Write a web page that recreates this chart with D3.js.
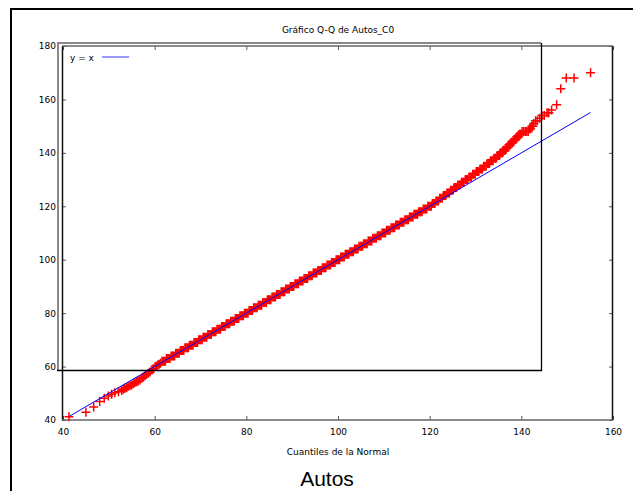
<!DOCTYPE html>
<html>
<head>
<meta charset="utf-8">
<script src="https://cdn.jsdelivr.net/npm/d3@7"></script>
<style>
  html, body { margin: 0; padding: 0; background: #fff; }
  svg { display: block; }
  text { font-family: "DejaVu Sans", Verdana, sans-serif; fill: #000; }
</style>
</head>
<body>
<svg id="chart" width="633" height="491"></svg>
<script>
// Axis ticks
const xTicks = [40, 60, 80, 100, 120, 140, 160];
const yTicks = [40, 60, 80, 100, 120, 140, 160, 180];

// Lower tail: [normal quantile, observed value]
const lowerTail = [
  [41.3, 41.2], [45.0, 42.9], [46.7, 44.9], [48.0, 46.9], [49.0, 48.1],
  [49.9, 49.0], [50.6, 49.6], [51.3, 50.2], [52.1, 50.6], [52.8, 51.0],
  [53.2, 51.5], [53.5, 51.9], [53.9, 52.1], [54.2, 52.5], [54.6, 52.8],
  [55.0, 53.1], [55.4, 53.6], [55.7, 54.0], [56.1, 54.3], [56.4, 54.6],
  [56.8, 55.0], [57.2, 55.6], [57.5, 56.0], [57.9, 56.6], [58.2, 57.0],
  [58.6, 57.5], [59.0, 58.0], [59.4, 58.7], [59.7, 59.2], [60.1, 60.0],
  [60.4, 60.2], [60.7, 60.6], [61.0, 60.9], [61.3, 61.2]
];

// Body and upper tail: observed (integer) value with the normal quantiles at which it occurs
const bodyLevels = [
  [62, [61.6, 61.85, 62.1, 62.35]], [63, [62.6, 62.85, 63.1, 63.35]],
  [64, [63.6, 63.85, 64.1, 64.35]], [65, [64.6, 64.85, 65.1, 65.35]],
  [66, [65.6, 65.85, 66.1, 66.35]], [67, [66.6, 66.85, 67.1, 67.35]],
  [68, [67.6, 67.85, 68.1, 68.35]], [69, [68.6, 68.85, 69.1, 69.35]],
  [70, [69.6, 69.85, 70.1, 70.35]], [71, [70.6, 70.85, 71.1, 71.35]],
  [72, [71.6, 71.85, 72.1, 72.35]], [73, [72.6, 72.85, 73.1, 73.35]],
  [74, [73.6, 73.85, 74.1, 74.35]], [75, [74.6, 74.85, 75.1, 75.35]],
  [76, [75.6, 75.85, 76.1, 76.35]], [77, [76.6, 76.85, 77.1, 77.35]],
  [78, [77.6, 77.85, 78.1, 78.35]], [79, [78.6, 78.85, 79.1, 79.35]],
  [80, [79.6, 79.85, 80.1, 80.35]], [81, [80.6, 80.85, 81.1, 81.35]],
  [82, [81.6, 81.85, 82.1, 82.35]], [83, [82.6, 82.85, 83.1, 83.35]],
  [84, [83.6, 83.85, 84.1, 84.35]], [85, [84.6, 84.85, 85.1, 85.35]],
  [86, [85.6, 85.85, 86.1, 86.35]], [87, [86.6, 86.85, 87.1, 87.35]],
  [88, [87.6, 87.85, 88.1, 88.35]], [89, [88.6, 88.85, 89.1, 89.35]],
  [90, [89.6, 89.85, 90.1, 90.35]], [91, [90.6, 90.85, 91.1, 91.35]],
  [92, [91.6, 91.85, 92.1, 92.35]], [93, [92.6, 92.85, 93.1, 93.35]],
  [94, [93.6, 93.85, 94.1, 94.35]], [95, [94.6, 94.85, 95.1, 95.35]],
  [96, [95.6, 95.85, 96.1, 96.35]], [97, [96.6, 96.85, 97.1, 97.35]],
  [98, [97.6, 97.85, 98.1, 98.35]], [99, [98.6, 98.85, 99.1, 99.35]],
  [100, [99.6, 99.85, 100.1, 100.35]], [101, [100.6, 100.85, 101.1, 101.35]],
  [102, [101.6, 101.85, 102.1, 102.35]], [103, [102.6, 102.85, 103.1, 103.35]],
  [104, [103.6, 103.85, 104.1, 104.35]], [105, [104.6, 104.85, 105.1, 105.35]],
  [106, [105.6, 105.85, 106.1, 106.35]], [107, [106.6, 106.85, 107.1, 107.35]],
  [108, [107.6, 107.85, 108.1, 108.35]], [109, [108.6, 108.85, 109.1, 109.35]],
  [110, [109.6, 109.85, 110.1, 110.35]], [111, [110.6, 110.85, 111.1, 111.35]],
  [112, [111.6, 111.85, 112.1, 112.35]], [113, [112.6, 112.85, 113.1, 113.35]],
  [114, [113.6, 113.85, 114.1, 114.35]], [115, [114.6, 114.85, 115.1, 115.35]],
  [116, [115.6, 115.85, 116.1, 116.35]], [117, [116.6, 116.85, 117.1, 117.35]],
  [118, [117.6, 117.85, 118.1, 118.35]], [119, [118.6, 118.85, 119.1, 119.35]],
  [120, [119.6, 119.85, 120.1, 120.35]]
];

const upperLevels = [
  [121, [120.6, 120.85, 121.1]], [122, [121.4, 121.65, 121.9]],
  [123, [122.2, 122.45, 122.7]], [124, [123.0, 123.25, 123.5]],
  [125, [123.8, 124.05, 124.3]], [126, [124.6, 124.85, 125.1]],
  [127, [125.35, 125.6, 125.85]], [128, [126.15, 126.4, 126.65]],
  [129, [126.95, 127.2, 127.45]], [130, [127.8, 128.05, 128.3]],
  [131, [128.6, 128.85, 129.1]], [132, [129.4, 129.65, 129.9]],
  [133, [130.2, 130.45, 130.7]], [134, [131.0, 131.25, 131.5]],
  [135, [131.8, 132.05, 132.3]], [136, [132.55, 132.8, 133.0]],
  [137, [133.3, 133.55, 133.8]], [138, [134.05, 134.3, 134.5]],
  [139, [134.75, 135.0, 135.2]], [140, [135.45, 135.7, 135.9]],
  [141, [136.1, 136.3, 136.5]], [142, [136.7, 136.9, 137.1]],
  [143, [137.3, 137.45, 137.6]], [144, [137.85, 138.05, 138.2]],
  [145, [138.4, 138.6, 138.8]], [146, [139.0, 139.2, 139.4]],
  [147, [139.55, 139.75, 139.9]], [148, [140.15, 140.5, 140.85, 141.2, 141.5]],
  [149, [141.8, 142.0]], [150, [142.3, 142.5]], [151, [142.7]],
  [152, [143.1, 143.5]], [153, [144.0]], [154, [144.5, 145.0]],
  [155, [145.6, 146.0]], [156, [146.6]], [158, [147.7]], [164, [148.6]],
  [168, [149.8, 151.5]], [170, [155.1]]
];

// Reference line y = x spans the range of the normal quantiles
const refLine = [41.3, 155.1];

const svg = d3.select("#chart");

// Plot area
const x = d3.scaleLinear().domain([40, 160]).range([63, 613]);
const y = d3.scaleLinear().domain([40, 180]).range([420, 46]);

// Outer frame
svg.append("path")
  .attr("d", "M11,500V9H640")
  .attr("fill", "none")
  .attr("stroke", "#000")
  .attr("stroke-width", 2);

// Title
svg.append("text")
  .attr("x", 338).attr("y", 33)
  .attr("text-anchor", "middle")
  .attr("font-size", 9)
  .text("Gráfico Q-Q de Autos_C0");

// Bottom axis (labels, inward ticks)
const gx = svg.append("g")
  .attr("transform", "translate(0,420)")
  .call(d3.axisBottom(x).tickValues(xTicks).tickFormat(d3.format("d"))
    .tickSizeInner(-4).tickSizeOuter(0).tickPadding(9));
gx.select(".domain").remove();
gx.selectAll(".tick line").attr("stroke", "#555");
gx.selectAll("text").attr("font-size", 9).attr("font-family", "DejaVu Sans, Verdana, sans-serif");

// Top mirrored ticks
const gxt = svg.append("g")
  .attr("transform", "translate(0,46)")
  .call(d3.axisTop(x).tickValues(xTicks).tickFormat("")
    .tickSizeInner(-4).tickSizeOuter(0));
gxt.select(".domain").remove();
gxt.selectAll(".tick line").attr("stroke", "#555");

// Left axis
const gy = svg.append("g")
  .attr("transform", "translate(62,0)")
  .call(d3.axisLeft(y).tickValues(yTicks).tickFormat(d3.format("d"))
    .tickSizeInner(-4).tickSizeOuter(0).tickPadding(6));
gy.select(".domain").remove();
gy.selectAll(".tick line").attr("stroke", "#555");
gy.selectAll("text").attr("font-size", 9).attr("font-family", "DejaVu Sans, Verdana, sans-serif");

// Right mirrored ticks
const gyr = svg.append("g")
  .attr("transform", "translate(613,0)")
  .call(d3.axisRight(y).tickValues(yTicks).tickFormat("")
    .tickSizeInner(-4).tickSizeOuter(0));
gyr.select(".domain").remove();
gyr.selectAll(".tick line").attr("stroke", "#555");

// Plot border
svg.append("path").attr("d", "M62.5,46V420.5").attr("stroke", "#111").attr("stroke-width", 1.5);
svg.append("path").attr("d", "M612.5,46V420.5").attr("stroke", "#111").attr("stroke-width", 1.5);
svg.append("path").attr("d", "M62,46H613").attr("stroke", "#666").attr("stroke-width", 1.5);
svg.append("path").attr("d", "M62,420H613").attr("stroke", "#666").attr("stroke-width", 1.5);

// Q-Q points
const points = lowerTail.concat(
  bodyLevels.concat(upperLevels).flatMap(([v, qs]) => qs.map(q => [q, v]))
);
const plus = "M-4.5,0H4.5M0,-4.5V4.5";
svg.append("g")
  .selectAll("path")
  .data(points)
  .join("path")
  .attr("transform", d => `translate(${x(d[0])},${y(d[1])})`)
  .attr("d", plus)
  .attr("fill", "none")
  .attr("stroke", "#ff0000")
  .attr("stroke-width", 1.5);

// Reference line y = x
svg.append("line")
  .attr("x1", x(refLine[0])).attr("y1", y(refLine[0]))
  .attr("x2", x(refLine[1])).attr("y2", y(refLine[1]))
  .attr("stroke", "#0000ff")
  .attr("stroke-width", 1);

// Legend
svg.append("text")
  .attr("x", 70).attr("y", 60.5)
  .attr("font-size", 9)
  .text("y = x");
svg.append("line")
  .attr("x1", 102).attr("x2", 129)
  .attr("y1", 57).attr("y2", 57)
  .attr("stroke", "#3333ff")
  .attr("stroke-width", 1);

// Overlaid panel frame
svg.append("path").attr("d", "M58,370V43H541").attr("fill", "none").attr("stroke", "#888").attr("stroke-width", 2);
svg.append("path").attr("d", "M541.5,43V370.5H57").attr("fill", "none").attr("stroke", "#000").attr("stroke-width", 1.3);

// Axis title
svg.append("text")
  .attr("x", 338).attr("y", 455)
  .attr("text-anchor", "middle")
  .attr("font-size", 9)
  .text("Cuantiles de la Normal");

// Caption
svg.append("text")
  .attr("x", 327).attr("y", 486)
  .attr("text-anchor", "middle")
  .attr("font-size", 21)
  .style("font-family", "Liberation Sans, Arial, sans-serif")
  .text("Autos");
</script>
</body>
</html>
